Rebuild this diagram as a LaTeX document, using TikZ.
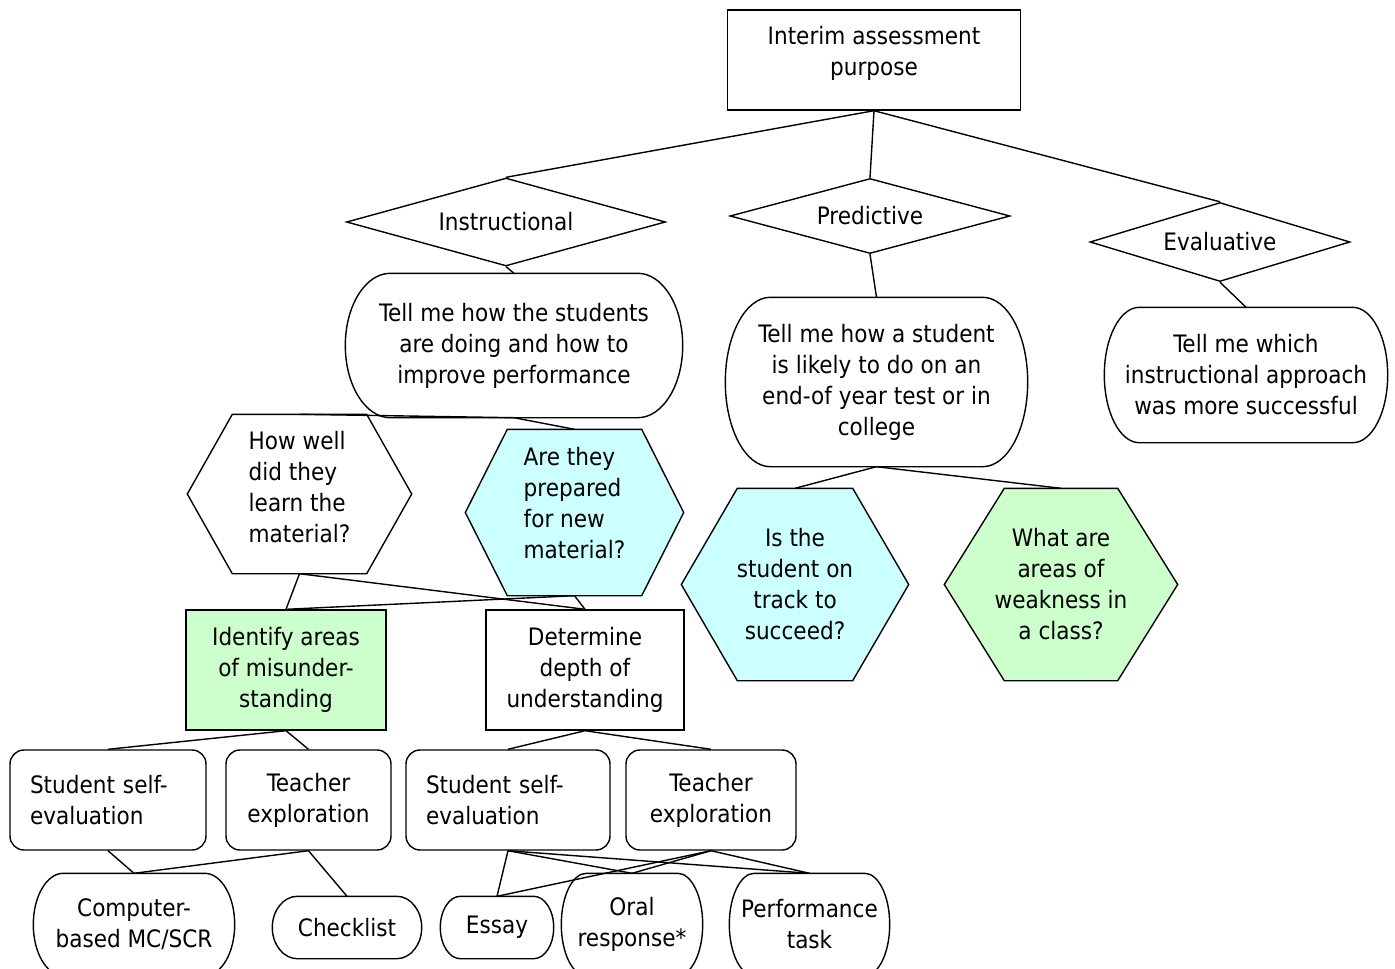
\documentclass[tikz,border=0pt]{standalone}
\usepackage{fontspec}
\setmainfont{DejaVu Sans Condensed}
\usetikzlibrary{shapes.geometric,calc,backgrounds}
\definecolor{askCyan}{HTML}{CCFFFF}
\definecolor{askGreen}{HTML}{CCFFCC}
% hexagon outline round a node: [fill]{node}{corner inset}
\newcommand{\hexframe}[3][white]{%
  \draw[fill=#1, line width=1.4pt] (#2.west) -- ($(#2.north west)+(#3,0)$) -- ($(#2.north east)+(-#3,0)$)
    -- (#2.east) -- ($(#2.south east)+(-#3,0)$) -- ($(#2.south west)+(#3,0)$) -- cycle;}
% flat top and bottom, bowed sides: {node}{bulge}
\newcommand{\pillframe}[2]{%
  \draw let \p1=(#1.north west), \p2=(#1.south east), \n1={(\y1-\y2)/2} in
    (\x1+#2pt,\y1) -- (\x2-#2pt,\y1) arc[start angle=90, end angle=-90, x radius=#2pt, y radius=\n1]
    -- (\x1+#2pt,\y2) arc[start angle=270, end angle=90, x radius=#2pt, y radius=\n1] -- cycle;}

\begin{document}
\begin{tikzpicture}[
  x=1pt, y=1pt, line width=1.4pt,
  every node/.style={font=\fontsize{24}{31}\selectfont, inner sep=0pt},
  sq/.style={draw, align=center},
  rbox/.style={draw, rounded corners=14pt, align=center},
  dia/.style={draw, diamond, shape aspect=3.6},
  hexa/.style={align=center},
  pill/.style={align=center}
]
\useasboundingbox (0,0) rectangle (1395,-969);

% purpose and its three kinds
\node[sq, text depth=18pt, minimum width=293pt, minimum height=100pt] (purpose) at (874,-60) {Interim assessment\\purpose};
\node[dia, minimum width=319pt, minimum height=88pt] (instr) at (506,-222) {Instructional};
\node[dia, minimum width=280pt, minimum height=75pt] (pred) at (870,-216) {Predictive};
\node[dia, minimum width=260pt, minimum height=79pt] (evalu) at (1220,-242) {Evaluative};

% what each kind tells
\node[pill, minimum width=336pt, minimum height=143pt] (askInstr) at (514,-345.5) {Tell me how the students\\are doing and how to\\improve performance};
\node[pill, minimum width=301pt, minimum height=168pt] (askPred) at (876.5,-382) {Tell me how a student\\is likely to do on an\\end-of year test or in\\college};
\node[pill, minimum width=282pt, minimum height=134pt] (askEval) at (1246,-375) {Tell me which\\instructional approach\\was more successful};

% questions
\node[hexa, align=left, text depth=14pt, minimum width=223pt, minimum height=158pt] (howWell) at (299.5,-494) {How well\\did they\\learn the\\material?};
\node[hexa, align=left, text depth=20pt, minimum width=217pt, minimum height=165pt] (prepared) at (574.5,-512.5) {Are they\\prepared\\for new\\material?};
\node[hexa, minimum width=226pt, minimum height=191pt] (onTrack) at (795,-584.5) {Is the\\student on\\track to\\succeed?};
\node[hexa, minimum width=232pt, minimum height=191pt] (weakness) at (1061,-584.5) {What are\\areas of\\weakness in\\a class?};

% aims
\node[sq, fill=askGreen, minimum width=200pt, minimum height=120pt] (misunder) at (286,-670) {Identify areas\\of misunder-\\standing};
\node[sq, minimum width=198pt, minimum height=120pt] (depth) at (585,-670) {Determine\\depth of\\understanding};

% who judges
\node[rbox, align=left, text width=156pt, minimum width=196pt, minimum height=100pt] (selfA) at (108,-800) {Student self-\\evaluation};
\node[rbox, minimum width=165pt, minimum height=100pt] (teachA) at (308.5,-800) {Teacher\\exploration};
\node[rbox, align=left, text width=164pt, minimum width=204pt, minimum height=100pt] (selfB) at (508,-800) {Student self-\\evaluation};
\node[rbox, minimum width=170pt, minimum height=100pt] (teachB) at (711,-800) {Teacher\\exploration};

% instruments
\node[pill, minimum width=200pt, minimum height=101pt] (computer) at (134,-924.5) {Computer-\\based MC/SCR};
\node[pill, minimum width=148pt, minimum height=61pt] (checklist) at (347,-927.5) {Checklist};
\node[pill, minimum width=112pt, minimum height=61pt] (essay) at (497,-927.5) {Essay};
\node[pill, minimum width=140pt, minimum height=101pt] (oral) at (632,-924.5) {Oral\\response*};
\node[pill, minimum width=159pt, minimum height=101pt] (perform) at (809.5,-924.5) {Performance\\task};

\pillframe{askInstr}{45}
\pillframe{askPred}{45}
\pillframe{askEval}{35}
\pillframe{computer}{30}
\pillframe{checklist}{25}
\pillframe{essay}{20}
\pillframe{oral}{25}
\pillframe{perform}{25}
\begin{scope}[on background layer]
\hexframe{howWell}{45}
\hexframe[askCyan]{prepared}{42}
\hexframe[askCyan]{onTrack}{56}
\hexframe[askGreen]{weakness}{60}
\end{scope}

\draw (purpose.south) -- (instr.north);
\draw (purpose.south) -- (pred.north);
\draw (purpose.south) -- (evalu.north);
\draw (instr.south) -- (askInstr.north);
\draw (pred.south) -- (askPred.north);
\draw (evalu.south) -- (askEval.north);
\draw (askInstr.south) -- (howWell.north);
\draw (askInstr.south) -- (prepared.north);
\draw (askPred.south) -- (onTrack.north);
\draw (askPred.south) -- (weakness.north);
\draw (howWell.south) -- (misunder.north);
\draw (howWell.south) -- (depth.north);
\draw (prepared.south) -- (misunder.north);
\draw (prepared.south) -- (depth.north);
\draw (misunder.south) -- (selfA.north);
\draw (misunder.south) -- (teachA.north);
\draw (depth.south) -- (selfB.north);
\draw (depth.south) -- (teachB.north);
\draw (selfA.south) -- (computer.north);
\draw (teachA.south) -- (computer.north);
\draw (teachA.south) -- (checklist.north);
\draw (selfB.south) -- (essay.north);
\draw (selfB.south) -- (oral.north);
\draw (selfB.south) -- (perform.north);
\draw (teachB.south) -- (essay.north);
\draw (teachB.south) -- (oral.north);
\draw (teachB.south) -- (perform.north);
\end{tikzpicture}
\end{document}
